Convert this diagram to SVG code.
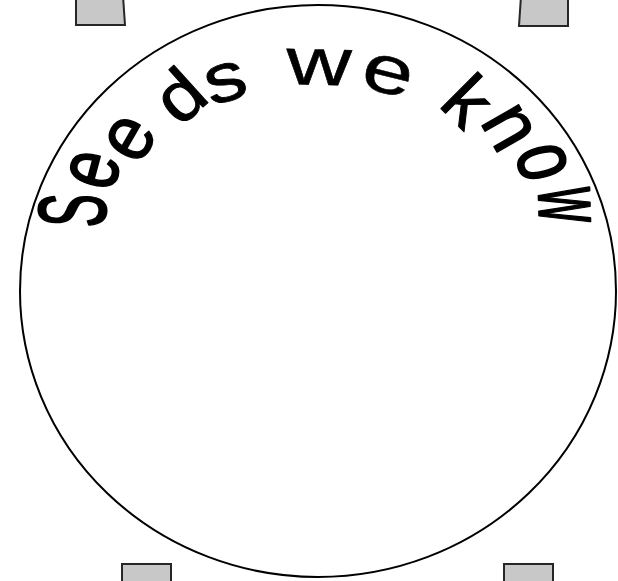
<svg xmlns="http://www.w3.org/2000/svg" width="618" height="581" viewBox="0 0 618 581">
  <style>
    .handle { fill: #c8c8c8; stroke: #262626; stroke-width: 2; }
    .ring { fill: #ffffff; stroke: #000000; stroke-width: 2; }
    .arch { font-family: "Liberation Sans", Arial, sans-serif; fill: #000000; stroke: #000000; stroke-linejoin: round; }
  </style>
  <defs>
    <path id="archPath" d="M 104.88,231.25 L 105.55,212.26 L 105.61,210.26 L 116.90,176.87 L 117.42,174.93 L 148.5,150.25 L 149.5,148.51 L 195.16,114.35 L 196.64,113.01 L 229.93,100.47 L 231.85,99.91 L 317.65,84.85 L 319.65,84.89 L 382.27,92.43 L 384.21,92.91 L 449.95,117.65 L 451.37,119.07 L 489.0,138.05 L 490.0,139.79 L 519.10,167.43 L 519.62,169.37 L 538.96,204.84 L 539.02,206.84 L 540.04,235.82"/>
  </defs>
  <rect width="618" height="581" fill="#ffffff"/>
  <g id="handle-top-left"><path class="handle" d="M 76,-4 L 123,-4 L 125,25 L 76,25 Z"/></g>
  <g id="handle-top-right"><path class="handle" d="M 521,-4 L 568,-4 L 568,26 L 519,26 Z"/></g>
  <g id="circle-node">
    <ellipse class="ring" cx="318" cy="291" rx="298" ry="286"/>
    <text class="arch"><textPath href="#archPath"><tspan x="3.35" font-size="96" stroke-width="2.2" textLength="33.3" lengthAdjust="spacingAndGlyphs">S</tspan><tspan x="39.65" font-size="88" stroke-width="2" textLength="35.2" lengthAdjust="spacingAndGlyphs">e</tspan><tspan x="78.94" font-size="80" stroke-width="1.4" textLength="40" lengthAdjust="spacingAndGlyphs">e</tspan><tspan x="136.56" font-size="70" stroke-width="1" textLength="42.8" lengthAdjust="spacingAndGlyphs">d</tspan><tspan x="174.83" font-size="69" stroke-width="0.8" textLength="41.4" lengthAdjust="spacingAndGlyphs">s</tspan> <tspan x="251.99" font-size="67" stroke-width="0.5" textLength="65.3" lengthAdjust="spacingAndGlyphs">w</tspan><tspan x="324.21" font-size="68" stroke-width="0.5" textLength="51" lengthAdjust="spacingAndGlyphs">e</tspan> <tspan x="403.05" font-size="72" stroke-width="1" textLength="37.8" lengthAdjust="spacingAndGlyphs">k</tspan><tspan x="446.1" font-size="80" stroke-width="1.4" textLength="40" lengthAdjust="spacingAndGlyphs">n</tspan><tspan x="490.63" font-size="88" stroke-width="2" textLength="35.2" lengthAdjust="spacingAndGlyphs">o</tspan><tspan x="533.28" font-size="96" stroke-width="2.2" textLength="34.7" lengthAdjust="spacingAndGlyphs">w</tspan></textPath></text>
  </g>
  <g id="handle-bottom-left"><path class="handle" d="M 122,564 L 171,564 L 171,586 L 122,586 Z"/></g>
  <g id="handle-bottom-right"><path class="handle" d="M 504,564 L 553,564 L 553,586 L 504,586 Z"/></g>
</svg>
